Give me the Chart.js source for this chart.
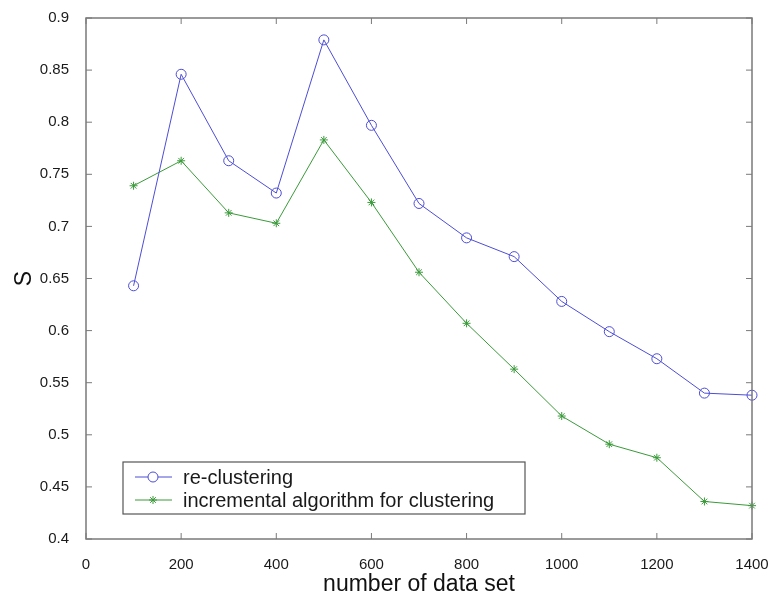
<!DOCTYPE html>
<html>
<head>
<meta charset="utf-8">
<script src="https://cdn.jsdelivr.net/npm/chart.js@4"></script>
<style>
  html, body { margin: 0; padding: 0; background: #fff; }
  #wrap { width: 778px; height: 599px; }
</style>
</head>
<body>
<div id="wrap"><canvas id="sChart" width="778" height="599"></canvas></div>
<script>
const dataSizes = [100, 200, 300, 400, 500, 600, 700, 800, 900, 1000, 1100, 1200, 1300, 1400];
const reClustering = [0.643, 0.846, 0.763, 0.732, 0.879, 0.797, 0.722, 0.689, 0.671, 0.628, 0.599, 0.573, 0.540, 0.538];
const incremental = [0.739, 0.763, 0.713, 0.703, 0.783, 0.723, 0.656, 0.607, 0.563, 0.518, 0.491, 0.478, 0.436, 0.432];
const seriesNames = ['re-clustering', 'incremental algorithm for clustering'];
const xTicks = [0, 200, 400, 600, 800, 1000, 1200, 1400];
const yTicks = [0.4, 0.45, 0.5, 0.55, 0.6, 0.65, 0.7, 0.75, 0.8, 0.85, 0.9];

const FONT = '"Liberation Sans", Arial, Helvetica, sans-serif';
Chart.defaults.font.family = FONT;
Chart.defaults.color = '#1a1a1a';

const toXY = (ys) => dataSizes.map((x, i) => ({ x: x, y: ys[i] }));

// box frame with inward ticks on all four sides
const framePlugin = {
  id: 'frame',
  afterDatasetsDraw(chart) {
    const { ctx, chartArea: a, scales } = chart;
    const len = 6;
    ctx.save();
    ctx.strokeStyle = '#7a7a7a';
    ctx.lineWidth = 1.5;
    ctx.strokeRect(a.left, a.top, a.right - a.left, a.bottom - a.top);
    ctx.lineWidth = 1;
    ctx.beginPath();
    scales.x.ticks.forEach(t => {
      const px = scales.x.getPixelForValue(t.value);
      ctx.moveTo(px, a.bottom); ctx.lineTo(px, a.bottom - len);
      ctx.moveTo(px, a.top); ctx.lineTo(px, a.top + len);
    });
    scales.y.ticks.forEach(t => {
      const py = scales.y.getPixelForValue(t.value);
      ctx.moveTo(a.left, py); ctx.lineTo(a.left + len, py);
      ctx.moveTo(a.right, py); ctx.lineTo(a.right - len, py);
    });
    ctx.stroke();
    ctx.restore();
  }
};

// legend box inside the plot, lower left
const boxLegend = {
  id: 'boxLegend',
  afterDraw(chart) {
    const { ctx, chartArea: a } = chart;
    const x0 = a.left + 37, y0 = a.bottom - 77, w = 402, h = 52;
    ctx.save();
    ctx.fillStyle = '#fff';
    ctx.fillRect(x0, y0, w, h);
    ctx.strokeStyle = '#555';
    ctx.lineWidth = 1.2;
    ctx.strokeRect(x0, y0, w, h);
    ctx.font = '20px ' + FONT;
    ctx.textBaseline = 'middle';
    chart.data.datasets.forEach((ds, i) => {
      const cy = y0 + 15 + i * 23;
      ctx.strokeStyle = ds.borderColor;
      ctx.lineWidth = 1;
      ctx.beginPath();
      ctx.moveTo(x0 + 12, cy); ctx.lineTo(x0 + 49, cy);
      ctx.stroke();
      Chart.helpers.drawPoint(ctx, {
        pointStyle: ds.pointStyle, radius: ds.pointRadius,
        borderWidth: 1, rotation: 0
      }, x0 + 30, cy);
      ctx.fillStyle = '#1a1a1a';
      ctx.fillText(ds.label, x0 + 60, cy + 1);
    });
    ctx.restore();
  }
};

new Chart(document.getElementById('sChart').getContext('2d'), {
  type: 'line',
  data: {
    datasets: [
      {
        label: seriesNames[0],
        data: toXY(reClustering),
        borderColor: '#4d4dd6',
        backgroundColor: 'rgba(0,0,0,0)',
        borderWidth: 1,
        pointStyle: 'circle',
        pointRadius: 5,
        pointBorderWidth: 1,
        clip: false
      },
      {
        label: seriesNames[1],
        data: toXY(incremental),
        borderColor: '#3a9a3a',
        backgroundColor: 'rgba(0,0,0,0)',
        borderWidth: 1,
        pointStyle: 'star',
        pointRadius: 4,
        pointBorderWidth: 1,
        clip: false
      }
    ]
  },
  options: {
    responsive: false,
    animation: false,
    layout: { padding: { top: 15, right: 26, left: 0, bottom: 0 } },
    plugins: {
      legend: { display: false },
      tooltip: { enabled: false }
    },
    scales: {
      x: {
        type: 'linear',
        min: 0,
        max: 1400,
        afterBuildTicks: (s) => { s.ticks = xTicks.map(v => ({ value: v })); },
        afterFit: (s) => { s.height = 60; },
        grid: { display: false },
        border: { display: false },
        ticks: { font: { size: 15 }, padding: 9, maxRotation: 0, callback: (v) => String(v) },
        title: {
          display: true,
          text: 'number of data set',
          font: { size: 23 },
          color: '#111',
          padding: { top: 0, bottom: 1 }
        }
      },
      y: {
        type: 'linear',
        min: 0.4,
        max: 0.9,
        afterBuildTicks: (s) => { s.ticks = yTicks.map(v => ({ value: v })); },
        afterFit: (s) => { s.width = 86; },
        grid: { display: false },
        border: { display: false },
        ticks: { font: { size: 15 }, padding: 9, callback: (v) => String(v) },
        title: {
          display: true,
          text: 'S',
          font: { size: 23 },
          color: '#111',
          padding: { top: 11, bottom: 0 }
        }
      }
    }
  },
  plugins: [framePlugin, boxLegend]
});
</script>
</body>
</html>
